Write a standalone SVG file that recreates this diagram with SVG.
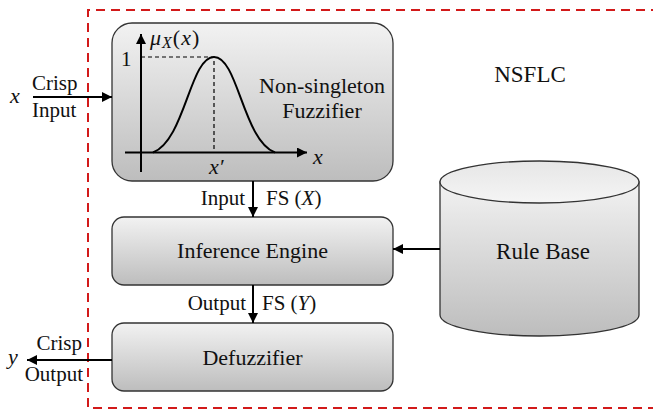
<svg xmlns="http://www.w3.org/2000/svg" width="653" height="409" viewBox="0 0 653 409" font-family="'Liberation Serif', 'Times New Roman', serif">
<style>
text{font-family:'Liberation Serif','Times New Roman',serif;font-size:21px;fill:#111}
.b{font-size:22px}
.B{font-size:23px}
.i{font-style:italic}
.m{text-anchor:middle}
.e{text-anchor:end}
.box{fill:url(#g);stroke:#333;stroke-width:1.3}
.ln{stroke:#000;stroke-width:2;fill:none}
.dash{stroke:#000;stroke-width:1.2;stroke-dasharray:4 3;fill:none}
</style>
<defs>
<linearGradient id="g" x1="0" y1="0" x2="0" y2="1">
<stop offset="0" stop-color="#f2f2f2"/>
<stop offset="1" stop-color="#bdbdbd"/>
</linearGradient>
<linearGradient id="gt" x1="0" y1="0" x2="0" y2="1">
<stop offset="0" stop-color="#e6e6e6"/>
<stop offset="1" stop-color="#f5f5f5"/>
</linearGradient>
<marker id="a" markerWidth="10" markerHeight="10" refX="10" refY="5" orient="auto" markerUnits="userSpaceOnUse">
<path d="M0,0 L10,5 L0,10 z" fill="#000"/>
</marker>
</defs>

<path d="M660,10 H88 V408 H660" fill="none" stroke="#d21a1a" stroke-width="2" stroke-dasharray="9 6"/>
<text class="m B" x="530" y="82">NSFLC</text>

<g id="fuzzifier">
<rect class="box" x="112" y="23" width="281" height="158" rx="20"/>
<path class="ln" d="M141,172 V34" marker-end="url(#a)"/>
<path class="ln" d="M125,152.5 H307" marker-end="url(#a)"/>
<path class="dash" d="M141,57 H214 V152"/>
<path class="ln" d="M153,152.5 C185,140 190,57 214,57 C238,57 243,140 275,152.5"/>
<text x="121" y="66">1</text>
<text class="i b" x="150" y="45" letter-spacing="1">μ<tspan font-size="16" dy="3">X</tspan><tspan dy="-3" font-style="normal">(</tspan>x<tspan font-style="normal">)</tspan></text>
<text class="i b" x="209" y="174">x′</text>
<text class="i b" x="313" y="164">x</text>
<text class="m b" x="322" y="93">Non-singleton</text>
<text class="m b" x="322" y="118">Fuzzifier</text>
</g>

<g id="inference">
<rect class="box" x="112" y="217" width="281" height="68" rx="12"/>
<text class="m b" x="252.5" y="258">Inference Engine</text>
</g>

<g id="defuzzifier">
<rect class="box" x="112" y="323" width="281" height="68" rx="12"/>
<text class="m b" x="252.5" y="365">Defuzzifier</text>
</g>

<g id="rulebase">
<path class="box" d="M440,182 V315 A99.5,21 0 0 0 639,315 V182 Z"/>
<ellipse cx="539.5" cy="182" rx="99.5" ry="21" fill="url(#gt)" stroke="#333" stroke-width="1.3"/>
<text class="m B" x="543" y="259">Rule Base</text>
</g>

<g id="connectors">
<path class="ln" d="M33,97 H112" marker-end="url(#a)"/>
<path class="ln" d="M253,181 V217" marker-end="url(#a)"/>
<path class="ln" d="M253,285 V323" marker-end="url(#a)"/>
<path class="ln" d="M112,360 H27" marker-end="url(#a)"/>
<path class="ln" d="M440,249 H393" marker-end="url(#a)"/>
</g>

<g id="labels">
<text class="i b" x="10" y="103">x</text>
<text x="32" y="90">Crisp</text>
<text x="32" y="117">Input</text>
<text class="e" x="245" y="205">Input</text>
<text x="266" y="205">FS (<tspan class="i">X</tspan>)</text>
<text class="e" x="246" y="310">Output</text>
<text x="262" y="310">FS (<tspan class="i">Y</tspan>)</text>
<text class="i b" x="8" y="364">y</text>
<text class="e" x="82" y="350">Crisp</text>
<text class="e" x="83" y="381">Output</text>
</g>
</svg>
